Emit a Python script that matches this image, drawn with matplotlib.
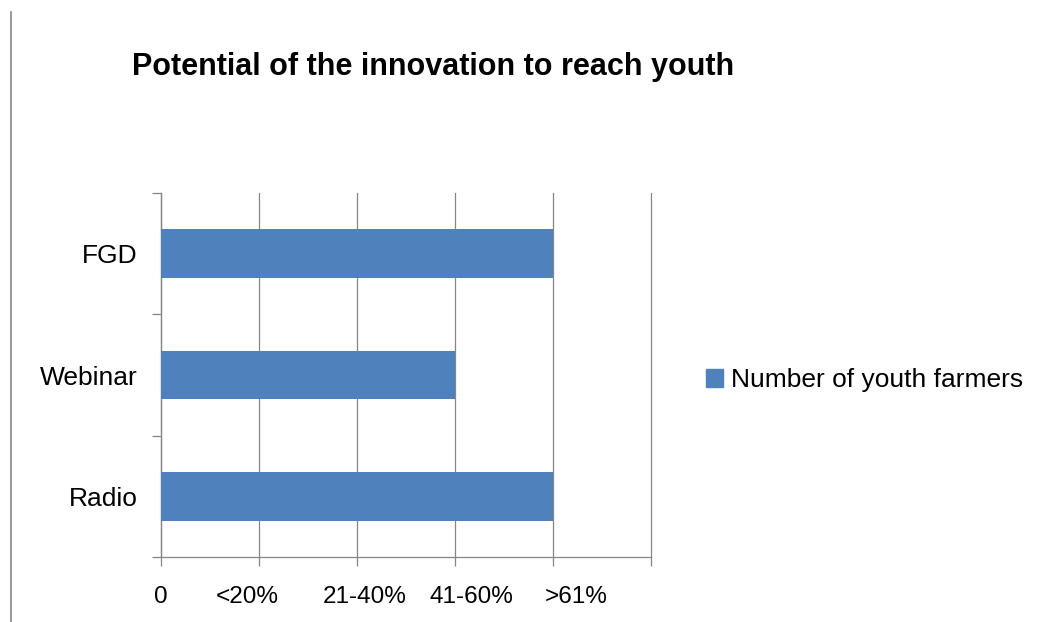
import matplotlib
matplotlib.use("Agg")
import matplotlib.pyplot as plt
import matplotlib.transforms as mtransforms
from matplotlib.lines import Line2D
from matplotlib.patches import Patch

# data
categories = ["Radio", "Webinar", "FGD"]
youth_farmers = [4, 3, 4]
series_name = "Number of youth farmers"
x_labels = ["0", "<20%", "21-40%", "41-60%", ">61%"]
title = "Potential of the innovation to reach youth"

# layout (label anchors in data units, as placed in the original)
x_label_pos = [0, 0.88, 2.08, 3.17, 4.24]

BAR = "#4F81BD"
GREY = "#868686"

plt.rcParams["font.family"] = ["Liberation Sans", "DejaVu Sans"]

fig = plt.figure(figsize=(10.6, 6.22), dpi=100)
ax = fig.add_axes([161 / 1060, 1 - 557 / 622, 490 / 1060, 364 / 622])

ypos = list(range(len(categories)))
ax.barh(ypos, youth_farmers, height=0.4, color=BAR, zorder=3)

ax.set_xlim(0, 5)
ax.set_ylim(-0.5, len(categories) - 0.5)

ax.set_xticks(range(0, 6))
ax.set_xticklabels([])
ax.tick_params(axis="x", length=6.5, width=0.9, color=GREY)
ax.xaxis.grid(True, color=GREY, linewidth=0.9, zorder=0)
for gl in ax.get_xgridlines():
    gl.set_clip_on(False)

ax.set_yticks(ypos)
ax.set_yticklabels(categories, fontsize=19)
ax.tick_params(axis="y", which="major", length=0, pad=17)
ax.set_yticks([y - 0.5 for y in range(len(categories) + 1)], minor=True)
ax.tick_params(axis="y", which="minor", length=6.5, width=0.9, color=GREY)

for side in ("top", "right"):
    ax.spines[side].set_visible(False)
for side in ("left", "bottom"):
    ax.spines[side].set_color(GREY)
    ax.spines[side].set_linewidth(0.9)

trans = mtransforms.blended_transform_factory(ax.transData, fig.transFigure)
for pos, lab in zip(x_label_pos, x_labels):
    ax.text(pos, 1 - 597 / 622, lab, transform=trans, ha="center", va="center",
            fontsize=17.5, clip_on=False)

fig.text(433 / 1060, 1 - 67 / 622, title, ha="center", va="center",
         fontsize=22, fontweight="bold")

fig.legend(handles=[Patch(color=BAR, label=series_name)], loc="center left",
           bbox_to_anchor=(695 / 1060, 1 - 380 / 622), frameon=False,
           fontsize=19, handlelength=0.65, handleheight=0.65, handletextpad=0.3,
           borderpad=0.2, borderaxespad=0.2)

fig.add_artist(Line2D([11 / 1060, 11 / 1060], [0, 1 - 12 / 622],
                      transform=fig.transFigure, color=GREY, linewidth=1.2))

fig.savefig("out.png", dpi=100)
